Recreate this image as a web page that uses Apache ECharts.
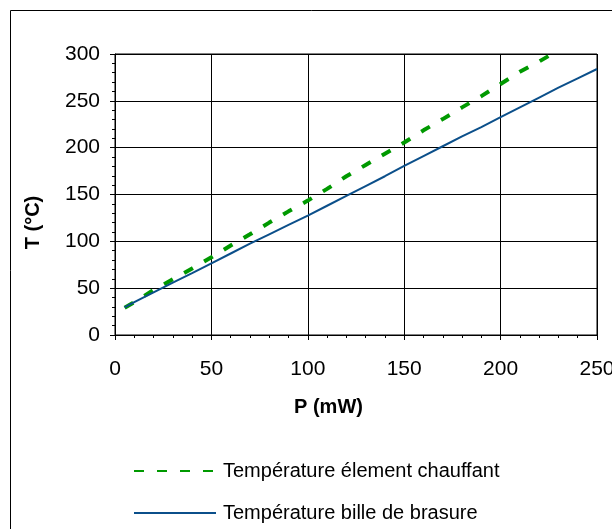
<!DOCTYPE html>
<html>
<head>
<meta charset="utf-8">
<script src="https://cdn.jsdelivr.net/npm/echarts@6/dist/echarts.min.js"></script>
<style>
  html, body { margin: 0; padding: 0; background: #fff; }
  #chart { width: 612px; height: 529px; }
</style>
</head>
<body>
<div id="chart"></div>
<script>
// puissance (mW)
var pElement = [5, 10, 20, 30, 40, 50, 60, 70, 80, 90, 100, 110, 120, 130, 140, 150, 160, 170, 180, 190, 200, 210, 220, 230];
var tElement = [29, 35, 48, 59.5, 71, 83, 95.5, 107.5, 120, 132, 143.5, 156, 169.5, 181.5, 193.5, 205.5, 218.5, 230.5, 243, 255, 268, 281, 292, 304];

var pBille = [5, 10, 20, 30, 40, 50, 60, 70, 80, 90, 100, 110, 120, 130, 140, 150, 160, 170, 180, 190, 200, 210, 220, 230, 240, 250];
var tBille = [29.5, 35, 45.5, 56, 66, 76.5, 87, 97.5, 107.5, 117.5, 127.5, 138, 148.5, 159, 169.5, 180.5, 191, 201.5, 212, 222, 232.5, 243, 253.5, 264, 274, 284];

var nomElement = 'Température élement chauffant';
var nomBille = 'Température bille de brasure';

function paires(xs, ys) {
    return xs.map(function (x, i) { return [x, ys[i]]; });
}

var font = 'Liberation Sans, Arial, sans-serif';
var myChart = echarts.init(document.getElementById('chart'));

// une légende par ligne, pour placer chaque entrée
function legende(nom, top) {
    return {
        left: 128,
        top: top,
        itemWidth: 82,
        itemHeight: 14,
        itemStyle: { opacity: 0 },
        textStyle: { fontFamily: font, fontSize: 20, color: '#000', padding: [0, 0, 0, 2] },
        data: [nom]
    };
}

var option = {
    backgroundColor: '#fff',
    animation: false,
    grid: {
        left: 115,
        right: 15,
        top: 54,
        bottom: 194,
        outerBoundsMode: 'none',
        show: true,
        borderColor: '#000',
        borderWidth: 1
    },
    graphic: [
        {
            type: 'rect',
            shape: { x: 10.5, y: 10.5, width: 700, height: 700 },
            style: { fill: 'none', stroke: '#000', lineWidth: 1 },
            silent: true
        }
    ],
    legend: [legende(nomElement, 456), legende(nomBille, 498)],
    xAxis: {
        type: 'value',
        min: 0,
        max: 250,
        interval: 50,
        name: 'P (mW)',
        nameLocation: 'middle',
        nameGap: 62,
        nameTextStyle: { fontFamily: font, fontSize: 20, fontWeight: 'bold', color: '#000', padding: [0, 55, 0, 0] },
        axisLine: { lineStyle: { color: '#000' } },
        axisTick: { show: true, length: 5, inside: false, lineStyle: { color: '#000' } },
        minorTick: { show: true, splitNumber: 5, length: 3, lineStyle: { color: '#000' } },
        axisLabel: { fontFamily: font, fontSize: 21, color: '#000', margin: 24, showMaxLabel: true },
        splitLine: { show: true, lineStyle: { color: '#000', width: 1 } }
    },
    yAxis: {
        type: 'value',
        min: 0,
        max: 300,
        interval: 50,
        name: 'T (°C)',
        nameLocation: 'middle',
        nameGap: 72,
        nameTextStyle: { fontFamily: font, fontSize: 20, fontWeight: 'bold', color: '#000', padding: [0, 56, 0, 0] },
        axisLine: { show: true, lineStyle: { color: '#000' } },
        axisTick: { show: true, length: 5, inside: false, lineStyle: { color: '#000' } },
        minorTick: { show: true, splitNumber: 5, length: 3, lineStyle: { color: '#000' } },
        axisLabel: { fontFamily: font, fontSize: 21, color: '#000', margin: 15 },
        splitLine: { show: true, lineStyle: { color: '#000', width: 1 } }
    },
    series: [
        {
            name: nomElement,
            type: 'line',
            symbol: 'none',
            clip: true,
            data: paires(pElement, tElement),
            itemStyle: { color: '#009900' },
            lineStyle: { color: '#009900', width: 4, type: [10, 13] }
        },
        {
            name: nomBille,
            type: 'line',
            symbol: 'none',
            clip: true,
            data: paires(pBille, tBille),
            itemStyle: { color: '#0b4f8a' },
            lineStyle: { color: '#0b4f8a', width: 2 }
        }
    ]
};

myChart.setOption(option);
</script>
</body>
</html>
